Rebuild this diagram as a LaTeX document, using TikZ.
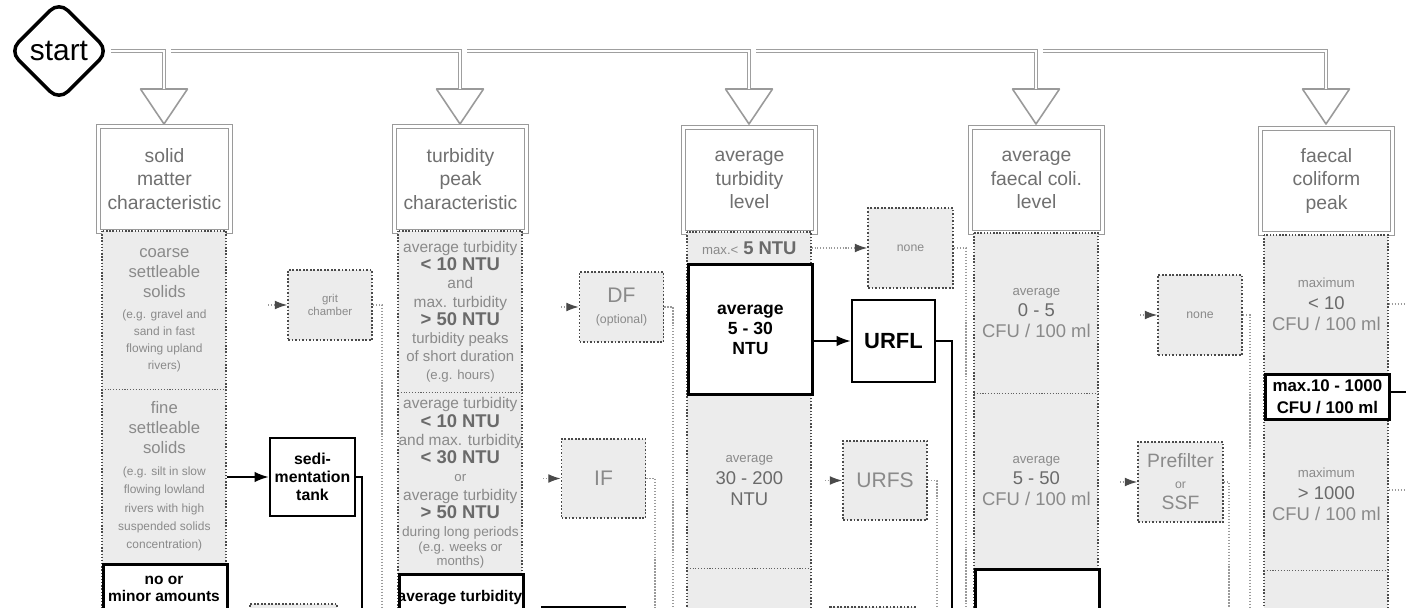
\documentclass[tikz,border=0pt]{standalone}
\usepackage{fontspec}
\setmainfont{Liberation Sans}
\usetikzlibrary{arrows.meta,shapes.geometric}
\newdimen\px \px=0.02cm
\newcommand\fsz[2]{\fontsize{#1}{#2}\selectfont}
\definecolor{cellfill}{HTML}{ECECEC}
\definecolor{celltxt}{HTML}{8A8A8A}
\definecolor{cellbold}{HTML}{6A6A6A}
\definecolor{hdrtxt}{HTML}{707070}
\definecolor{gline}{HTML}{9A9A9A}
\definecolor{dline}{HTML}{4A4A4A}
\tikzset{
  hdr/.style={draw=gline, double=white, double distance=1.3pt, line width=0.55pt, fill=white,
    minimum width=132\px, minimum height=105\px, anchor=north west, inner sep=0pt,
    align=center, text=hdrtxt, font=\fsz{11}{13.3}},
  cell/.style={fill=cellfill, minimum width=124\px, inner sep=0pt, anchor=north west,
    align=center, text=celltxt},
  boldcell/.style={draw=black, line width=1.6pt, fill=white, minimum width=124\px,
    inner sep=0pt, anchor=north west, align=center},
  colframe/.style={draw=dline, densely dotted, line width=0.8pt},
  sepline/.style={draw=gray!75!black, densely dotted, line width=0.6pt},
  gbox/.style={draw=dline, densely dotted, line width=1pt, fill=cellfill, minimum width=84\px,
    minimum height=79\px, inner sep=0pt, align=center, text=celltxt},
  bbox/.style={draw=black, line width=1.6pt, fill=white, minimum width=84\px,
    minimum height=80\px, inner sep=0pt, align=center, font=\bfseries},
  garrow/.style={draw=gline, densely dotted, line width=0.6pt,
    -{Latex[length=7pt,width=5pt,color=dline]}},
  barrow/.style={draw=black, line width=0.9pt, -{Latex[length=8pt,width=6pt]}},
  bline/.style={draw=black, line width=0.9pt},
  gout/.style={draw=gline, densely dotted, line width=0.7pt},
  mainline/.style={draw=gray!75, double=white, double distance=1.6pt, line width=0.6pt},
  tri/.style={draw=gline, line width=0.9pt, fill=white, line join=round},
  btxt/.style={align=center, inner sep=0pt, font=\bfseries\fsz{8.8}{9.6}},
}
\begin{document}
\begin{tikzpicture}[x=0.02cm,y=-0.02cm]
\useasboundingbox (0,0) rectangle (1406,608);
\clip (0,0) rectangle (1406,608);

% ---------- start and distribution line ----------
\node[diamond, draw=black, line width=2pt, rounded corners=7pt, minimum width=100\px,
  minimum height=100\px, inner sep=0pt, font=\fsz{17}{17}] (start) at (59,51) {start};

\foreach \n/\cx in {1/164,2/460,3/749,4/1036,5/1326}{
  \coordinate (t\n) at (\cx,89);
  \draw[tri] ({\cx-23.5},89) -- ({\cx+23.5},89) -- (\cx,124) -- cycle;
}
\coordinate (s2) at (171,51);
\coordinate (s3) at (467,51);
\coordinate (s4) at (756,51);
\coordinate (s5) at (1043,51);
\draw[mainline] (start.east) -| (t1);
\draw[mainline] (s2) -| (t2);
\draw[mainline] (s3) -| (t3);
\draw[mainline] (s4) -| (t4);
\draw[mainline] (s5) -| (t5);

% ---------- headers ----------
\node[hdr] (h1) at (98,126) {solid\\matter\\characteristic};
\node[hdr] (h2) at (394,126) {turbidity\\peak\\characteristic};
\node[hdr] (h3) at (683,127) {average\\turbidity\\level};
\node[hdr] (h4) at (970,127) {average\\faecal coli.\\level};
\node[hdr] (h5) at (1260,128) {faecal\\coliform\\peak};

% ---------- column 1 ----------
\node[cell, minimum height=158\px, font=\fsz{9}{9.7}] (c1a) at (102,231)
  {{\fsz{9.5}{11}coarse}\\[1.5pt]{\fsz{9.5}{11}settleable}\\[1.5pt]{\fsz{9.5}{11}solids}\\[2.5pt]
   {\fsz{6.8}{8}(e.g. gravel and}\\{\fsz{6.8}{8}sand in fast}\\{\fsz{6.8}{8}flowing upland}\\{\fsz{6.8}{8}rivers)}};
\node[cell, minimum height=174\px, font=\fsz{9}{10.4}] (c1b) at (102,389)
  {{\fsz{9.5}{11}fine}\\[1pt]{\fsz{9.5}{11}settleable}\\[1pt]{\fsz{9.5}{11}solids}\\[2pt]
   {\fsz{6.8}{8}(e.g. silt in slow}\\{\fsz{6.8}{8}flowing lowland}\\{\fsz{6.8}{8}rivers with high}\\{\fsz{6.8}{8}suspended solids}\\{\fsz{6.8}{8}concentration)}};
\draw[colframe] (102,231) rectangle (226,630);
\draw[sepline] (c1a.south west) -- (c1a.south east);
\node[boldcell, minimum height=70\px] (c1c) at (102,563) {};
\node[btxt] (c1ct) at (164,588.5) {no or\\minor amounts};

% ---------- column 2 ----------
\node[cell, minimum height=161\px, font=\fsz{9}{10.3}] (c2a) at (398,231)
  {{\fsz{8.8}{10}average turbidity}\\{\color{cellbold}\bfseries\fsz{10.5}{12}< 10 NTU}\\{\fsz{8.8}{10}and}\\{\fsz{8.8}{10}max. turbidity}\\
   {\color{cellbold}\bfseries\fsz{10.5}{12}> 50 NTU}\\{\fsz{8.5}{10}turbidity peaks}\\{\fsz{8.5}{10}of short duration}\\{\fsz{7.5}{9}(e.g. hours)}};
\node[cell, minimum height=181\px, font=\fsz{9}{10.4}] (c2b) at (398,392)
  {{\fsz{8.8}{10}average turbidity}\\{\color{cellbold}\bfseries\fsz{10.5}{12}< 10 NTU}\\{\fsz{8.8}{10}and max. turbidity}\\{\color{cellbold}\bfseries\fsz{10.5}{12}< 30 NTU}\\
   {\fsz{7.5}{9}or}\\{\fsz{8.8}{10}average turbidity}\\{\color{cellbold}\bfseries\fsz{10.5}{12}> 50 NTU}\\{\fsz{7.8}{9}during long periods}\\[-2pt]
   {\fsz{7.5}{9}(e.g. weeks or}\\[-2.5pt]{\fsz{7.5}{9}months)}};
\draw[colframe] (398,231) rectangle (522,630);
\draw[sepline] (c2a.south west) -- (c2a.south east);
\node[boldcell, minimum height=60\px] (c2c) at (398,573) {};
\node[btxt] (c2ct) at (460,598) {average turbidity};

% ---------- column 3 ----------
\node[cell, minimum height=31\px] (c3a) at (687,232)
  {{\fsz{7.5}{9}max.<}~{\color{cellbold}\bfseries\fsz{10.5}{12}5 NTU}};
\node[cell, minimum height=175\px, font=\fsz{10.5}{12.2}] (c3c) at (687,393)
  {{\fsz{7.5}{9}average}\\{\color{cellbold}\fsz{10.5}{12}30 - 200}\\{\color{cellbold}\fsz{10.5}{12}NTU}};
\node[cell, minimum height=60\px] (c3d) at (687,568) {};
\draw[colframe] (687,232) rectangle (811,630);
\draw[sepline] (c3c.south west) -- (c3c.south east);
\node[boldcell, minimum height=130\px, font=\bfseries\fsz{10}{11.4}] (c3b) at (687,263) {average\\5 - 30\\NTU};

% ---------- column 4 ----------
\node[cell, minimum height=160\px, font=\fsz{10.5}{12}] (c4a) at (974,233)
  {{\fsz{7.5}{9}average}\\{\color{cellbold}\fsz{10.5}{12}0 - 5}\\{\fsz{10.5}{12}CFU / 100 ml}};
\node[cell, minimum height=175\px, font=\fsz{10.5}{12}] (c4b) at (974,393)
  {{\fsz{7.5}{9}average}\\{\color{cellbold}\fsz{10.5}{12}5 - 50}\\{\fsz{10.5}{12}CFU / 100 ml}};
\draw[colframe] (974,233) rectangle (1098,630);
\draw[sepline] (c4a.south west) -- (c4a.south east);
\node[boldcell, minimum height=60\px] (c4c) at (974,568) {};

% ---------- column 5 ----------
\node[cell, minimum height=138\px, font=\fsz{10.5}{12}] (c5a) at (1264,235)
  {{\fsz{7.5}{9}maximum}\\{\color{cellbold}\fsz{10.5}{12}< 10}\\{\fsz{10.5}{12}CFU / 100 ml}};
\node[cell, minimum height=152\px, font=\fsz{10.5}{12}] (c5c) at (1264,418)
  {{\fsz{7.5}{9}maximum}\\{\color{cellbold}\fsz{10.5}{12}> 1000}\\{\fsz{10.5}{12}CFU / 100 ml}};
\node[cell, minimum height=60\px] (c5d) at (1264,570) {};
\draw[colframe] (1264,235) rectangle (1388,630);
\draw[sepline] (c5c.south west) -- (c5c.south east);
\node[boldcell, minimum height=45\px, font=\bfseries\fsz{9.6}{12.2}] (c5b) at (1264,373) {max.10 - 1000\\CFU / 100 ml};

% ---------- treatment boxes ----------
\node[gbox, minimum height=70\px, font=\fsz{6.5}{7}] (grit) at (330,305) {grit\\chamber};
\node[bbox, minimum width=85\px, minimum height=78\px, font=\bfseries\fsz{9}{10.2}] (sed) at (312.5,477) {sedi-\\mentation\\tank};
\node[gbox, minimum height=70\px] (DF) at (621.5,307) {{\fsz{12}{13}DF}\\{\fsz{7}{8}(optional)}};
\node[gbox, font=\fsz{12}{13}] (IF) at (603.5,478.5) {IF};
\node[gbox, minimum width=85\px, minimum height=80\px, font=\fsz{7}{8}] (none3) at (910.5,248) {none};
\node[bbox, minimum width=83\px, minimum height=82\px, font=\bfseries\fsz{12.5}{13}] (URFL) at (893.5,341) {URFL};
\node[gbox, font=\fsz{12}{13}] (URFS) at (885,480.5) {URFS};
\node[gbox, minimum height=80\px, font=\fsz{7}{8}] (none4) at (1200,315) {none};
\node[gbox, minimum width=85\px, minimum height=80\px, font=\fsz{11}{12}] (pre) at (1180.5,482) {Prefilter\\{\fsz{7}{8}or}\\SSF};
% partly visible boxes at the bottom edge
\node[gbox, anchor=north, minimum width=87\px, minimum height=60\px] (nb1) at (293.5,603) {};
\node[bbox, anchor=north, minimum width=83\px, minimum height=60\px] (nb2) at (583.5,606) {};
\node[gbox, anchor=north, minimum width=85\px, minimum height=60\px] (nb3) at (872.5,606) {};

% ---------- connectors ----------
\coordinate (a1) at (268,305);
\coordinate (a2) at (561,307);
\coordinate (a3) at (543,478.5);
\coordinate (a5) at (825,480.5);
\coordinate (a6) at (1140,315);
\coordinate (a7) at (1120,482);
\draw[garrow] (a1) -- (grit.west);
\draw[barrow] (c1b.east |- sed.west) -- (sed.west);
\draw[garrow] (a2) -- (DF.west);
\draw[garrow] (a3) -- (IF.west);
\draw[garrow] (c3a.east |- none3.west) -- (none3.west);
\draw[barrow] (c3b.east |- URFL.west) -- (URFL.west);
\draw[garrow] (a5) -- (URFS.west);
\draw[garrow] (a6) -- (none4.west);
\draw[garrow] (a7) -- (pre.west);

\coordinate (d1) at (382,630);
\coordinate (d2) at (362,630);
\coordinate (d3) at (673,630);
\coordinate (d4) at (655,630);
\coordinate (d5) at (966,630);
\coordinate (d6) at (952,630);
\coordinate (d7) at (937,630);
\coordinate (d8) at (1250,630);
\coordinate (d9) at (1229,630);
\draw[gout] (grit.east) -| (d1);
\draw[bline] (sed.east) -| (d2);
\draw[gout] (DF.east) -| (d3);
\draw[gout] (IF.east) -| (d4);
\draw[gout] (none3.east) -| (d5);
\draw[bline] (URFL.east) -| (d6);
\draw[gout] (URFS.east) -| (d7);
\draw[gout] (none4.east) -| (d8);
\draw[gout] (pre.east) -| (d9);

\coordinate (e1) at (1406,304);
\coordinate (e2) at (1406,392);
\coordinate (e3) at (1406,490);
\draw[gout] (c5a.east |- e1) -- (e1);
\draw[bline] (c5b.east |- e2) -- (e2);
\draw[gout] (c5c.east |- e3) -- (e3);
\end{tikzpicture}
\end{document}
